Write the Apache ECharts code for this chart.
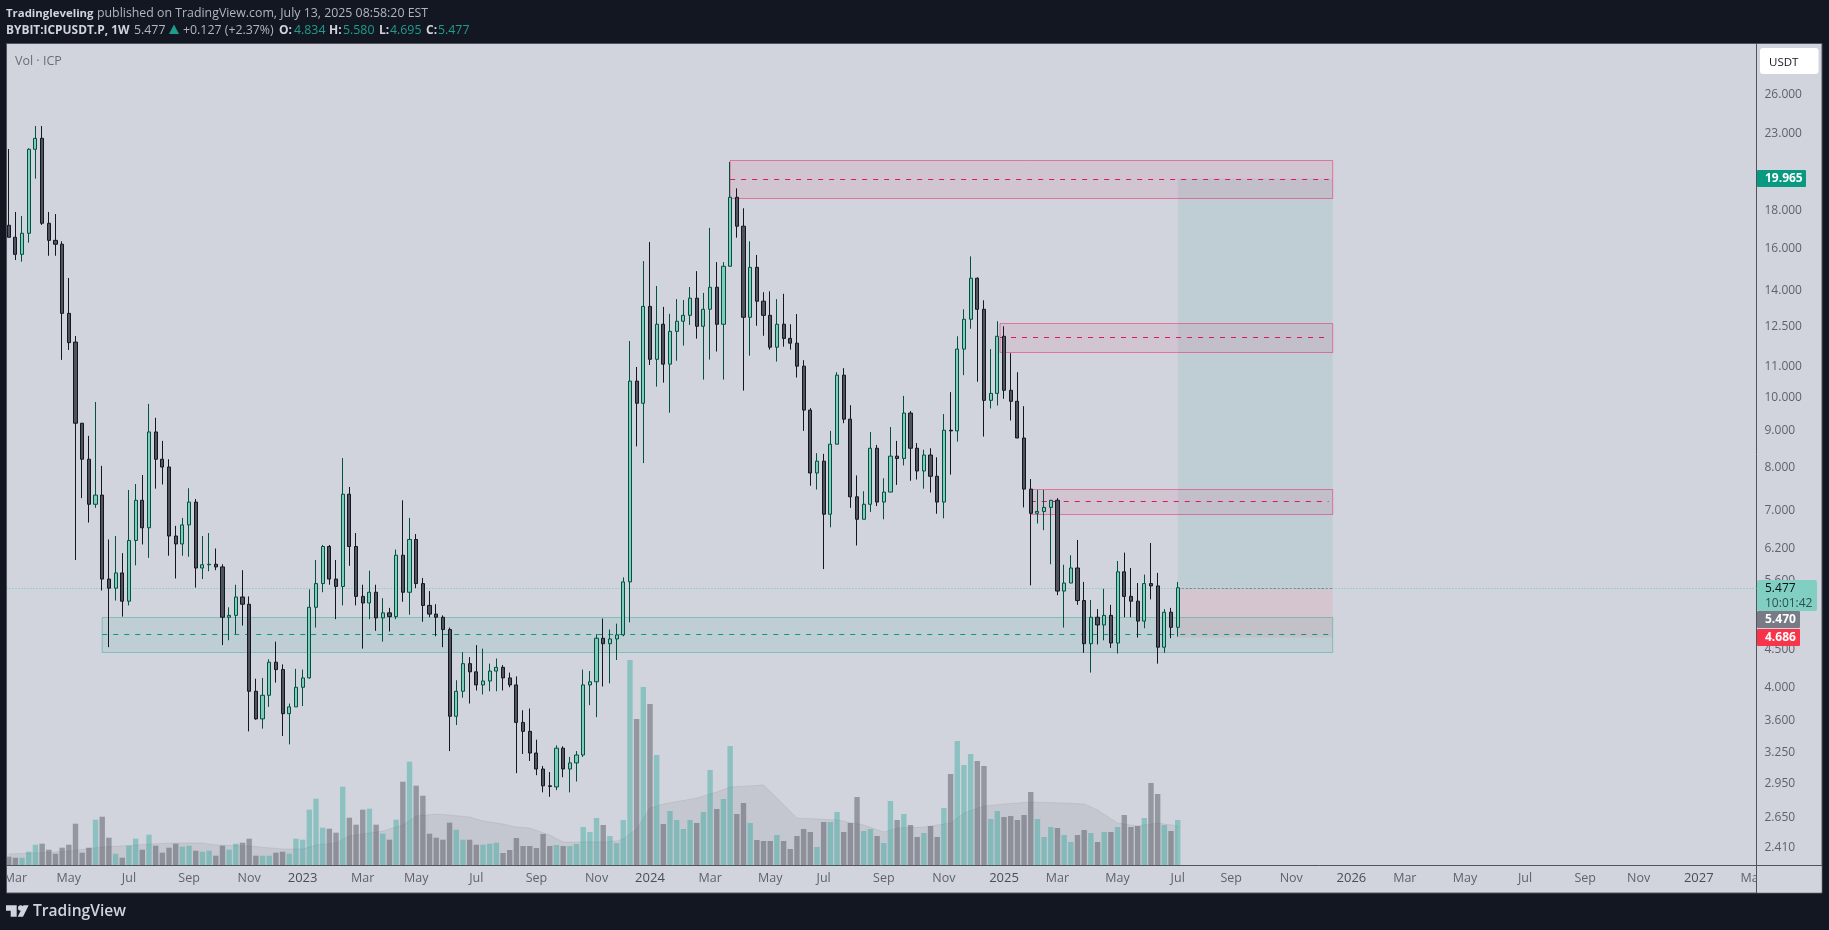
<!DOCTYPE html>
<html><head><meta charset="utf-8"><title>ICPUSDT.P 1W</title>
<style>html,body{margin:0;padding:0;background:#131722}#c{width:1829px;height:930px}</style>
<script src="https://cdn.jsdelivr.net/npm/echarts@6/dist/echarts.min.js"></script></head>
<body><div id="c"></div>
<script>
const opens=[17.21,16.57,15.70,16.78,21.88,22.65,17.32,16.41,16.21,13.03,
11.90,9.21,8.22,7.13,7.34,5.63,5.47,5.74,5.25,6.36,
7.22,6.62,8.96,8.22,8.02,6.45,6.29,6.68,7.18,5.83,
5.89,5.90,5.85,4.99,5.02,5.32,5.20,3.95,3.62,3.90,
4.33,4.23,3.68,3.76,4.00,4.12,5.15,5.55,6.24,5.63,
5.50,7.36,6.24,5.33,5.22,5.40,4.98,5.06,5.00,6.07,
5.40,6.38,5.55,5.18,5.04,4.99,4.80,3.65,3.95,4.31,
4.20,4.03,4.08,4.21,4.26,4.12,4.03,3.58,3.48,3.25,
3.09,2.93,2.92,3.30,3.09,3.15,3.23,4.03,4.07,4.67,
4.59,4.66,4.72,5.58,10.52,9.81,13.32,11.27,12.59,11.10,
12.31,12.71,12.95,13.67,12.51,13.20,14.15,12.59,15.12,18.80,
17.16,12.87,15.07,13.54,12.95,11.71,12.59,12.04,11.86,11.03,
9.60,7.87,8.17,6.91,8.62,10.72,9.33,7.30,6.80,7.13,
8.51,7.18,7.41,8.30,8.24,9.51,8.51,7.92,8.33,7.79,
7.18,9.01,8.99,11.64,12.79,14.56,13.20,9.90,10.12,12.12,
10.22,9.87,8.79,7.48,6.93,6.97,7.06,7.22,5.42,5.56,
5.83,5.26,4.59,4.99,4.87,5.02,4.60,5.76,5.33,5.25,
4.93,5.55,5.51,4.54,5.07,4.834];
const highs=[21.90,17.95,17.72,21.95,23.55,23.55,17.95,17.83,16.36,14.57,
12.13,9.21,8.85,9.85,8.05,6.38,6.45,6.11,7.46,7.60,
7.82,9.79,9.37,8.71,8.22,6.66,6.83,7.50,7.25,6.45,
6.51,6.20,5.90,5.15,5.53,5.79,5.33,4.11,4.12,4.37,
4.62,4.30,3.80,4.24,4.23,5.45,5.98,6.27,6.27,5.98,
8.25,7.53,6.51,5.53,5.78,5.53,5.30,5.14,6.18,7.22,
6.83,6.49,5.65,5.42,5.20,5.02,4.83,4.09,4.47,4.40,
4.57,4.52,4.31,4.38,4.29,4.19,4.14,3.72,3.74,3.39,
3.12,3.06,3.33,3.32,3.21,3.27,4.23,4.21,4.73,4.97,
4.80,4.89,5.66,11.94,11.00,15.37,16.33,14.21,13.30,13.01,
13.63,13.59,14.16,14.89,13.90,17.07,15.32,15.32,21.02,19.34,
18.16,16.36,15.67,13.93,13.97,13.63,13.86,12.59,13.00,11.24,
9.66,8.38,8.36,8.99,10.82,10.96,9.75,7.81,7.43,8.96,
8.60,7.74,9.10,8.71,10.04,9.57,8.65,8.47,8.51,8.27,
9.48,10.16,12.12,13.20,15.60,14.60,13.58,11.64,12.71,12.51,
11.49,10.82,9.72,7.72,7.46,7.46,7.23,7.27,5.89,6.07,
6.37,5.58,5.27,5.12,5.46,5.19,5.96,6.12,5.83,5.56,
5.71,6.31,5.74,5.12,5.14,5.580];
const lows=[16.57,15.42,15.34,16.29,19.94,17.23,15.63,15.63,11.25,11.61,
5.98,7.27,6.73,7.05,5.43,4.54,5.26,5.00,5.18,5.88,
6.28,6.02,7.49,7.59,6.06,5.64,6.06,6.04,5.48,5.63,
5.77,5.79,4.57,4.64,4.73,4.86,3.48,3.61,3.51,3.76,
4.06,3.43,3.34,3.76,3.77,4.11,4.83,5.40,5.53,4.96,
5.18,5.87,5.18,4.52,4.96,4.78,4.62,4.77,4.96,5.24,
5.03,5.47,4.92,4.99,4.70,4.54,3.27,3.55,3.87,3.80,
3.96,3.91,3.95,3.95,3.96,4.00,3.05,3.24,3.17,3.03,
2.87,2.83,2.89,3.01,2.87,2.97,3.21,3.78,3.64,4.01,
4.05,4.36,4.70,4.91,8.56,8.12,11.07,10.34,10.47,9.52,
11.22,11.77,12.56,12.03,10.57,11.26,11.55,10.57,15.12,16.55,
10.21,11.40,12.53,12.14,11.62,11.19,11.73,11.62,10.64,8.99,
7.56,7.47,5.81,6.63,8.62,9.21,7.05,6.26,6.80,6.96,
7.09,6.80,7.41,7.58,8.06,7.68,7.71,7.49,7.40,6.92,
6.82,7.83,8.69,10.72,12.41,10.50,8.83,9.65,9.74,9.95,
9.29,8.79,7.06,5.52,6.71,6.57,5.90,5.35,4.83,5.56,
5.19,4.46,4.19,4.58,4.64,4.53,4.45,4.99,4.99,4.68,
4.82,5.28,4.31,4.46,4.67,4.695];
const closes=[16.57,15.70,16.78,21.88,22.65,17.32,16.41,16.21,13.03,11.88,
9.21,8.22,7.13,7.34,5.63,5.47,5.74,5.25,6.36,7.22,
6.62,8.96,8.22,8.02,6.45,6.29,6.68,7.18,5.83,5.89,
5.90,5.85,4.99,5.02,5.32,5.20,3.95,3.62,3.90,4.33,
4.23,3.68,3.76,4.00,4.12,5.15,5.55,6.24,5.63,5.50,
7.36,6.24,5.33,5.22,5.40,4.98,5.06,5.00,6.07,5.40,
6.38,5.55,5.18,5.04,4.99,4.80,3.65,3.95,4.31,4.20,
4.03,4.08,4.21,4.26,4.12,4.03,3.58,3.48,3.25,3.09,
2.93,2.925,3.30,3.09,3.15,3.23,4.03,4.07,4.67,4.59,
4.66,4.72,5.58,10.52,9.81,13.32,11.27,12.59,11.10,12.31,
12.71,12.95,13.67,12.51,13.20,14.15,12.59,15.12,18.80,17.16,
12.87,15.07,13.54,12.95,11.71,12.59,12.04,11.86,11.03,9.60,
7.87,8.17,6.91,8.62,10.72,9.33,7.30,6.80,7.13,8.51,
7.18,7.41,8.30,8.24,9.51,8.51,7.92,8.33,7.79,7.18,
9.01,8.99,11.64,12.79,14.56,13.20,9.90,10.12,12.12,10.22,
9.87,8.79,7.48,6.93,6.97,7.06,7.22,5.42,5.56,5.83,
5.26,4.59,4.99,4.87,5.02,4.60,5.76,5.33,5.25,4.93,
5.55,5.51,4.54,5.07,4.834,5.477];
const volumes=[8.3,7.3,7.3,13.3,20.3,21.3,15.3,11.3,17.3,20.3,
41.3,12.3,17.3,45.3,48.3,27.3,11.3,7.3,19.3,26.3,
15.3,30.3,19.3,12.3,17.3,21.3,18.3,19.3,14.3,13.3,
14.3,9.3,19.3,15.3,21.3,22.3,26.3,9.3,9.3,9.3,
12.3,13.3,11.3,26.3,25.3,55.3,66.3,37.3,36.3,32.3,
78.3,47.3,40.3,55.3,56.3,40.3,31.3,25.3,45.3,83.3,
103.3,79.3,69.3,31.3,27.3,25.3,42.3,35.3,25.3,25.3,
20.3,20.3,21.3,22.3,12,15,27,19,19,17,
31,19,20,19,19,21,38,33,47,40,
29,22,45,205,146,178,161,110,41,54,
45,36,45,42,53,95,56,66,119,51,
62,42,25,24,24,30,24,16,29,36,
33,18,43,43,53,33,42,68,34,36,
29,22,64,45,51,40,28,32,39,28,
57,91,124,100,111,104,99,46,54,48,
49,45,50,73,46,28,38,37,30,23,
30,35,32,23,33,33,38,50,38,39,
47,82,71,40,34,45];
const volumeMaWeeks=[-96,-92,-87,-82,-77,-72,-67,-65,-60,-55,-52,-50,-47,-45,-42,-40,-37,-35,-32,-30,-27,-25,-22,-20,-18,-15,-13,-10,-7,-5,-4,-2,0,2,7,10,12,17,19,22,25,28,32,35,37,41,45,47,50,53,57,62,65,67,70,73,76,79];
const volumeMaValues=[11,12,14,18,20,22,22,20,19,16,16,20,22,29,32,34,40,49,51,50,48,44,41,38,37,30,23,23,23,24,26,36,57,61,67,73,78,80,67,47,46,45,40,33,37,38,42,52,59,61,63,62,61,55,42,39,42,39];

const priceTicks=[26,23,18,16,14,12.5,11,10,9,8,7,6.2,5.6,4.5,4,3.6,3.25,2.95,2.65,2.41];
const timeTickDates=['2022-03-07','2022-05-02','2022-07-04','2022-09-05','2022-11-07','2023-01-02','2023-03-06','2023-05-01','2023-07-03','2023-09-04','2023-11-06','2024-01-01','2024-03-04','2024-05-06','2024-07-01','2024-09-02','2024-11-04','2025-01-06','2025-03-03','2025-05-05','2025-07-07','2025-09-01','2025-11-03','2026-01-05','2026-03-02','2026-05-04','2026-07-06','2026-09-07','2026-11-02','2027-01-04','2027-03-01'];
const timeTickLabels=['Mar','May','Jul','Sep','Nov','2023','Mar','May','Jul','Sep','Nov','2024','Mar','May','Jul','Sep','Nov','2025','Mar','May','Jul','Sep','Nov','2026','Mar','May','Jul','Sep','Nov','2027','Mar'];

// price zones: start week, end week, top, bottom, mid (weeks counted from the first week of 2024)
const zoneStarts=[12,52.4,57,-82];
const zoneEnds=[102.2,102.2,102.2,102.2];
const zoneTops=[21.13,12.63,7.475,4.989];
const zoneBottoms=[18.74,11.52,6.908,4.476];
const zoneMids=[19.90,12.08,7.197,4.729];
const zoneKinds=[0,0,0,1];
const positionStart=79, positionEnd=102.2, entryPrice=5.477, targetPrice=19.965, stopPrice=4.686;

const WEEK=7*864e5, ORIGIN=Date.UTC(2024,0,1), FIRST_WEEK=-96;
const wk=i=>ORIGIN+i*WEEK;
const xMin=wk(-96.33), xMax=wk(-96.33+1750/6.68);
const FONT='"Open Sans"';
const candleData=opens.map((o,k)=>[wk(FIRST_WEEK+k),o,closes[k],lows[k],highs[k]]);
const volumeData=volumes.map((v,k)=>[wk(FIRST_WEEK+k),v]);
const maData=volumeMaWeeks.map((w,k)=>[wk(w),volumeMaValues[k]]);
const tickTs=timeTickDates.map(s=>Date.parse(s+'T00:00:00Z'));

const zoneRows=zoneStarts.map((s,k)=>[wk(s),wk(zoneEnds[k]),zoneTops[k],zoneBottoms[k],zoneMids[k],zoneKinds[k]]);
const positionRows=[
 [wk(positionStart),wk(positionEnd),targetPrice,entryPrice,entryPrice,2],
 [wk(positionStart),wk(positionEnd),entryPrice,stopPrice,entryPrice,3],
 [xMin,xMax,entryPrice,entryPrice,entryPrice,4]];
function renderBand(params,api){
 const k=api.value(5);
 const a=api.coord([api.value(0),api.value(2)]),b=api.coord([api.value(1),api.value(3)]);
 const m=Math.round(api.coord([api.value(0),api.value(4)])[1])+0.5;
 const x0=a[0],x1=b[0],y0=Math.round(a[1])+0.5,y1=Math.round(b[1])+0.5;
 if(k===0||k===1){
  const stroke=k===0?'rgba(233,30,99,0.5)':'rgba(8,153,129,0.35)',fill=k===0?'rgba(233,30,99,0.08)':'rgba(8,153,129,0.09)',mid=k===0?'#d81b60':'#089981';
  return {type:'group',children:[
   {type:'rect',shape:{x:x0,y:y0,width:x1-x0,height:y1-y0},style:{fill,stroke,lineWidth:1}},
   {type:'line',shape:{x1:x0,y1:m,x2:x1-4,y2:m},style:{stroke:mid,lineWidth:1,lineDash:[5,6]}}]};
 }
 if(k===2||k===3){
  const children=[{type:'rect',shape:{x:x0,y:y0,width:x1-x0,height:y1-y0},style:{fill:k===2?'rgba(8,153,129,0.09)':'rgba(242,54,69,0.09)'}}];
  if(k===2)children.push({type:'line',shape:{x1:x0,y1:y1,x2:x1,y2:y1},style:{stroke:'#6a6d78',lineWidth:1,lineDash:[2,2]}});
  return {type:'group',children};
 }
 return {type:'line',shape:{x1:x0,y1:y0,x2:x1,y2:y0},style:{stroke:'#60cdbb',lineWidth:1,lineDash:[1,2]}};
}

const txt=(text,x,y,fill,size,weight,extra)=>Object.assign({type:'text',x,y:y+0.8,z:120,silent:true,style:{text,fill,verticalAlign:'middle',align:'left',font:`${weight||'normal'} ${size}px ${FONT}`}},extra||{});
const box=(x,y,w,h,fill,r)=>({type:'rect',z:110,silent:true,shape:{x,y,width:w,height:h,r:r||0},style:{fill}});
const UP='#1f9c8e',HD='#d1d4dc',NM='#b2b5be',DARK='#131722',EDGE='#50535e';
const graphics=[
 {type:'rect',z:-10,silent:true,shape:{x:6.5,y:43.5,width:1815.5,height:849.5},style:{fill:'#d1d4dc',stroke:EDGE,lineWidth:1}},
 box(0,0,6,930,DARK),
 {type:'line',z:111,silent:true,shape:{x1:6.5,y1:43.5,x2:6.5,y2:893},style:{stroke:EDGE,lineWidth:1}},
 box(1757,866,64.5,26.5,'#d1d4dc'),
 {type:'line',z:111,silent:true,shape:{x1:1756.5,y1:865.5,x2:1822,y2:865.5},style:{stroke:EDGE,lineWidth:1}},
 {type:'line',z:111,silent:true,shape:{x1:1756.5,y1:865.5,x2:1756.5,y2:893},style:{stroke:EDGE,lineWidth:1}},
 txt('Tradingleveling',6,12.5,HD,11.4,'bold'),
 txt('published on TradingView.com, July 13, 2025 08:58:20 EST',97,12.5,NM,12.35),
 txt('BYBIT:ICPUSDT.P, 1W',6,29.5,HD,11.9,'bold'),
 txt('5.477',134,29.5,NM,12.35),
 {type:'polygon',z:120,silent:true,shape:{points:[[174,24.5],[179,34],[169,34]]},style:{fill:UP}},
 txt('+0.127 (+2.37%)',183,29.5,NM,12.35),
 txt('O:',279,29.5,HD,12,'bold'),txt('4.834',294,29.5,UP,12.35),
 txt('H:',329,29.5,HD,12,'bold'),txt('5.580',343,29.5,UP,12.35),
 txt('L:',379,29.5,HD,12,'bold'),txt('4.695',390,29.5,UP,12.35),
 txt('C:',426,29.5,HD,12,'bold'),txt('5.477',438,29.5,UP,12.35),
 txt('Vol · ICP',15,60.5,'#6a6d78',12.5),
 box(1760,48,58.5,26,'#ffffff',3),txt('USDT',1769,62,'#131722',11.5),
 box(1757,170,49,17,'#089981',1),txt('19.965',1765,178,'#ffffff',12,'bold'),
 box(1757,580,60,31,'#81cfc3',2),txt('5.477',1765,588,'#0b0e14',12),txt('10:01:42',1765,602.5,'#2f4f4c',12),
 box(1757,611,43,17,'#787b86',1),txt('5.470',1765,619,'#ffffff',12,'bold'),
 box(1757,629,43,17,'#f7344a',1),txt('4.686',1765,637,'#ffffff',12,'bold'),
 {type:'polygon',z:120,silent:true,shape:{points:[[6,905.3],[16.7,905.3],[16.7,916.7],[10.7,916.7],[10.7,910.7],[6,910.7]]},style:{fill:HD}},
 {type:'circle',z:120,silent:true,shape:{cx:20.7,cy:908,r:2.7},style:{fill:HD}},
 {type:'polygon',z:120,silent:true,shape:{points:[[23.5,905.3],[28.7,905.3],[23,916.7],[17.7,916.7]]},style:{fill:HD}},
 txt('TradingView',33,910.8,HD,15.6,'600')
];

const chart=echarts.init(document.getElementById('c'),null,{width:1829,height:930});
chart.setOption({
 animation:false,backgroundColor:DARK,
 grid:{left:6.5,right:72.5,top:44,bottom:65,containLabel:false},
 graphic:{elements:graphics},
 xAxis:{type:'value',min:xMin,max:xMax,
  axisLine:{show:true,onZero:false,lineStyle:{color:EDGE,width:1}},axisTick:{show:false},splitLine:{show:false},
  axisLabel:{customValues:tickTs,hideOverlap:false,showMinLabel:true,showMaxLabel:true,margin:7,
   formatter:(v)=>{const k=tickTs.indexOf(+v);const s=k<0?'':timeTickLabels[k];return /^\d/.test(s)?`{y|${s}}`:`{m|${s}}`;},
   rich:{m:{fontFamily:FONT,fontSize:12.5,color:'#5f626d'},y:{fontFamily:FONT,fontSize:13,fontWeight:500,color:'#4a4d58'}}}},
 yAxis:[
  {type:'log',logBase:10,position:'right',min:2.2818,max:30.51,
   axisLine:{show:true,onZero:false,lineStyle:{color:EDGE,width:1}},axisTick:{show:false},splitLine:{show:false},
   axisLabel:{customValues:priceTicks,hideOverlap:false,showMinLabel:true,showMaxLabel:true,margin:8,padding:[2,0,0,0],fontFamily:FONT,fontSize:12,color:'#5f626d',formatter:v=>Number(v).toFixed(3)}},
  {type:'value',min:0,max:821,show:false}
 ],
 series:[
  {type:'custom',name:'Positions',coordinateSystem:'cartesian2d',xAxisIndex:0,yAxisIndex:0,z:1,silent:true,data:positionRows,encode:{x:0,y:2},renderItem:renderBand},
  {type:'custom',name:'Zones',coordinateSystem:'cartesian2d',xAxisIndex:0,yAxisIndex:0,z:1,silent:true,data:zoneRows,encode:{x:0,y:2},renderItem:renderBand},
  {type:'line',name:'Vol MA',yAxisIndex:1,z:2,silent:true,symbol:'none',data:maData,lineStyle:{color:'rgba(80,83,94,0.1)',width:1},areaStyle:{color:'rgba(80,83,94,0.14)',origin:'start'}},
  {type:'bar',name:'Vol',yAxisIndex:1,z:2,silent:true,barWidth:5.4,data:volumeData,
   itemStyle:{color:p=>closes[p.dataIndex]>opens[p.dataIndex]?'rgba(38,166,154,0.4)':'rgba(80,83,94,0.47)'}},
  {type:'candlestick',name:'ICPUSDT.P',yAxisIndex:0,z:3,silent:true,barWidth:3.6,data:candleData,clip:true,
   itemStyle:{color:'#7fccbd',color0:'#50535e',borderColor:'#00523f',borderColor0:'#131722',borderWidth:1}}
 ]
});
</script></body></html>
